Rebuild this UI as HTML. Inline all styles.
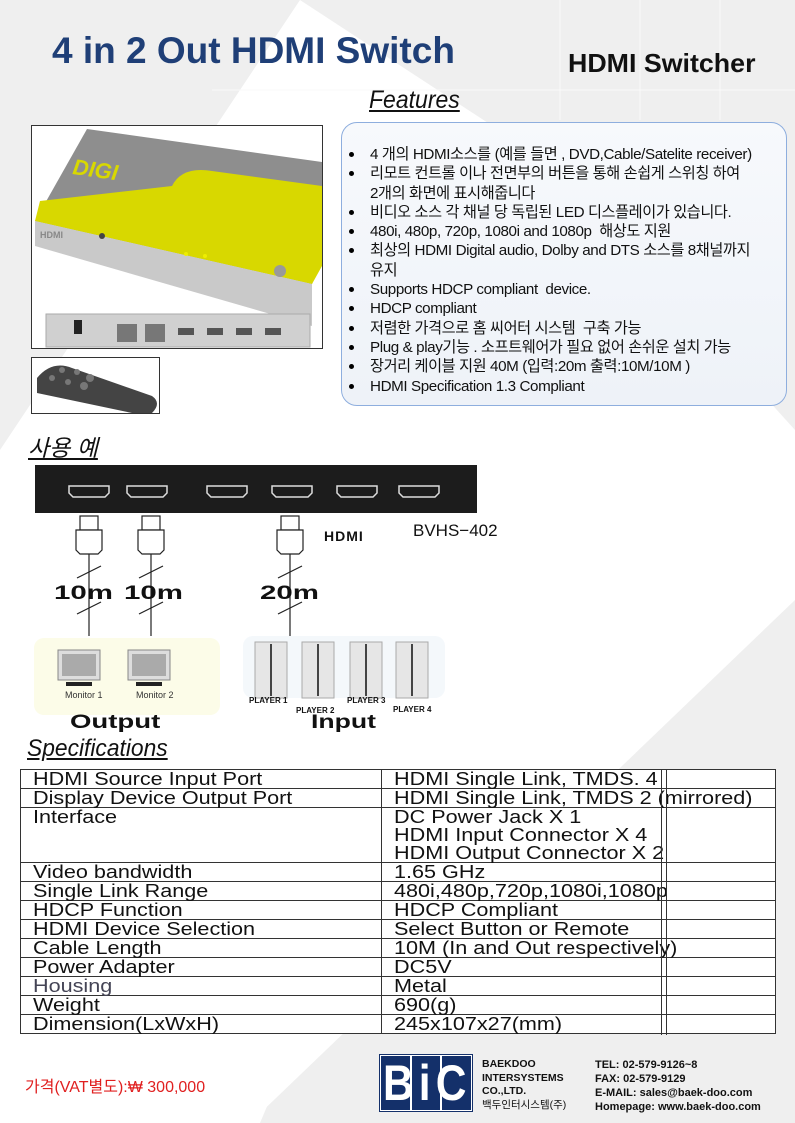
<!DOCTYPE html>
<html><head><meta charset="utf-8">
<style>
*{margin:0;padding:0;box-sizing:border-box}
body{width:795px;height:1123px;position:relative;overflow:hidden;background:#efefef;font-family:"Liberation Sans","Noto Sans CJK KR",sans-serif;color:#111}
.a{position:absolute;white-space:nowrap}
.s{display:inline-block;transform-origin:left center}
#feat{left:341px;top:122px;width:446px;height:284px;border:1.5px solid #8eaede;border-radius:16px;background:linear-gradient(#f7f9fc,#eef2f8)}
#feat ul{list-style:none;position:absolute;left:4px;top:22px;font-size:15.2px;line-height:19.3px;letter-spacing:-0.4px}
#feat li{position:relative;padding-left:24px}
#feat li:before{content:"";position:absolute;left:3px;top:7px;width:5px;height:5px;border-radius:50%;background:#000}
table{position:absolute;left:20px;top:769px;width:756px;border-collapse:collapse;background:#fff;font-size:18px;line-height:18px}
td{border:1.5px solid #333;padding:0 0 0 12px;vertical-align:top;height:19px}
td:first-child{width:361px}
td span{display:inline-block;transform:scaleX(1.2);transform-origin:left top}
.big{font-weight:900;font-size:19px;display:inline-block;transform-origin:left}
</style></head><body>
<svg class="a" style="left:0;top:0" width="795" height="1123">
<polygon points="300,0 0,450 0,1123 250,1123 795,600 795,430 560,170" fill="#fff"/>
<polygon points="145,1040 295,1040 260,1123 250,1123" fill="#fff"/>
<g stroke="#fafafa" stroke-width="1"><line x1="212" y1="90" x2="795" y2="90"/><line x1="560" y1="0" x2="560" y2="120"/><line x1="640" y1="0" x2="640" y2="120"/><line x1="720" y1="0" x2="720" y2="120"/></g>
</svg>
<div class="a" style="left:52px;top:30px;font-size:37px;font-weight:bold;color:#1f3f77"><span class="s" style="transform:scaleX(1.0)">4 in 2 Out HDMI Switch</span></div>
<div class="a" style="left:568px;top:48px;font-size:26px;font-weight:bold"><span class="s" style="transform:scaleX(1.03)">HDMI Switcher</span></div>
<div class="a" style="left:369px;top:86px;font-size:25px;font-style:italic;text-decoration:underline;transform:scaleX(.92);transform-origin:left">Features</div>

<div class="a" style="left:31px;top:125px;width:292px;height:224px;border:1.5px solid #333;background:#fff;overflow:hidden">
<svg width="292" height="224">
<polygon points="55,3 290,36 290,130 280,158 3,95" fill="#8e8e8e"/>
<path d="M3,95 L8,75 L140,60 Q150,40 180,45 L290,60 L290,140 L280,158 Z" fill="#d8d800"/>
<text x="40" y="48" font-family="Liberation Sans" font-weight="bold" font-style="italic" font-size="22" fill="#d8d800" transform="rotate(8 40 48)">DIGI</text>
<polygon points="3,95 280,158 280,200 3,120" fill="#c9c9c9"/>
<text x="8" y="112" font-size="9" font-weight="bold" fill="#888" font-family="Liberation Sans">HDMI</text>
<circle cx="70" cy="110" r="3" fill="#444"/><circle cx="248" cy="145" r="6" fill="#999"/>
<circle cx="154" cy="128" r="2" fill="#ee0"/><circle cx="173" cy="130" r="2" fill="#ee0"/>
<rect x="14" y="188" width="264" height="33" fill="#d0d0d0" stroke="#aaa"/>
<rect x="42" y="194" width="8" height="14" fill="#222"/>
<rect x="85" y="198" width="20" height="18" fill="#777"/><rect x="113" y="198" width="20" height="18" fill="#777"/>
<rect x="146" y="202" width="16" height="7" fill="#555"/><rect x="175" y="202" width="16" height="7" fill="#555"/><rect x="204" y="202" width="16" height="7" fill="#555"/><rect x="233" y="202" width="16" height="7" fill="#555"/>
</svg></div>
<div class="a" style="left:31px;top:357px;width:129px;height:57px;border:1.5px solid #333;background:#fff;overflow:hidden">
<svg width="129" height="57"><path d="M5,20 Q20,2 40,10 L120,38 Q130,45 120,55 L100,55 L5,35 Z" fill="#444"/><g fill="#777"><circle cx="30" cy="12" r="3"/><circle cx="45" cy="14" r="3"/><circle cx="20" cy="20" r="3"/><circle cx="36" cy="24" r="3"/><circle cx="58" cy="20" r="4"/><circle cx="52" cy="28" r="4"/></g></svg></div>

<div id="feat" class="a"><ul>
<li>4 개의 HDMI소스를 (예를 들면 , DVD,Cable/Satelite receiver)</li>
<li>리모트 컨트롤 이나 전면부의 버튼을 통해 손쉽게 스위칭 하여<br>2개의 화면에 표시해줍니다</li>
<li>비디오 소스 각 채널 당 독립된 LED 디스플레이가 있습니다.</li>
<li>480i, 480p, 720p, 1080i and 1080p &nbsp;해상도 지원</li>
<li>최상의 HDMI Digital audio, Dolby and DTS 소스를 8채널까지<br>유지</li>
<li>Supports HDCP compliant &nbsp;device.</li>
<li>HDCP compliant</li>
<li>저렴한 가격으로 홈 씨어터 시스템 &nbsp;구축 가능</li>
<li>Plug &amp; play기능 . 소프트웨어가 필요 없어 손쉬운 설치 가능</li>
<li>장거리 케이블 지원 40M (입력:20m 출력:10M/10M )</li>
<li>HDMI Specification 1.3 Compliant</li>
</ul></div>

<div class="a" style="left:28px;top:429px;font-size:23px;font-style:italic;text-decoration:underline">사용 예</div>

<svg class="a" style="left:0;top:460px" width="520" height="280">
<rect x="35" y="5" width="442" height="48" fill="#1c1c1c"/>
<g fill="#1c1c1c" stroke="#ddd" stroke-width="1.5">
<path d="M69,26 h40 v7 l-4,4 h-32 l-4,-4z"/><path d="M127,26 h40 v7 l-4,4 h-32 l-4,-4z"/><path d="M207,26 h40 v7 l-4,4 h-32 l-4,-4z"/><path d="M272,26 h40 v7 l-4,4 h-32 l-4,-4z"/><path d="M337,26 h40 v7 l-4,4 h-32 l-4,-4z"/><path d="M399,26 h40 v7 l-4,4 h-32 l-4,-4z"/>
</g>
<g fill="#fff" stroke="#222" stroke-width="1.2">
<g id="p"><rect x="80" y="56" width="18" height="14"/><path d="M76,70 h26 v20 l-4,4 h-18 l-4,-4z"/><line x1="89" y1="94" x2="89" y2="176"/></g>
<use href="#p" x="62"/><use href="#p" x="201"/>
</g>
<g stroke="#222" stroke-width="1.2">
<line x1="77" y1="118" x2="101" y2="106"/><line x1="139" y1="118" x2="163" y2="106"/><line x1="278" y1="118" x2="302" y2="106"/>
<line x1="77" y1="154" x2="101" y2="142"/><line x1="139" y1="154" x2="163" y2="142"/><line x1="278" y1="154" x2="302" y2="142"/>
</g>
<rect x="34" y="178" width="186" height="77" rx="10" fill="#fcfce8"/>
<rect x="243" y="176" width="202" height="62" rx="10" fill="#f4f8fb"/>
<g fill="#ddd" stroke="#888"><rect x="58" y="190" width="42" height="30"/><rect x="128" y="190" width="42" height="30"/></g>
<g fill="#aaa"><rect x="62" y="194" width="34" height="22"/><rect x="132" y="194" width="34" height="22"/><rect x="66" y="222" width="26" height="4" fill="#222"/><rect x="136" y="222" width="26" height="4" fill="#222"/></g>
<g fill="#e6e6e6" stroke="#aaa"><rect x="255" y="182" width="32" height="56"/><rect x="302" y="182" width="32" height="56"/><rect x="350" y="182" width="32" height="56"/><rect x="396" y="182" width="32" height="56"/></g>
<g stroke="#444" stroke-width="2"><line x1="271" y1="184" x2="271" y2="236"/><line x1="318" y1="184" x2="318" y2="236"/><line x1="366" y1="184" x2="366" y2="236"/><line x1="412" y1="184" x2="412" y2="236"/></g>
</svg>
<div class="a" style="left:324px;top:528px;font-size:14px;font-weight:bold;letter-spacing:1px">HDMI</div>
<div class="a" style="left:413px;top:521px;font-size:17px">BVHS−402</div>
<div class="a" style="left:54px;top:583px"><span class="big" style="transform:scaleX(1.55)">10m</span></div>
<div class="a" style="left:124px;top:583px"><span class="big" style="transform:scaleX(1.55)">10m</span></div>
<div class="a" style="left:260px;top:583px"><span class="big" style="transform:scaleX(1.55)">20m</span></div>
<div class="a" style="left:65px;top:690px;font-size:9px;color:#333">Monitor 1</div>
<div class="a" style="left:136px;top:690px;font-size:9px;color:#333">Monitor 2</div>
<div class="a" style="left:249px;top:696px;font-size:8px;font-weight:bold">PLAYER 1</div>
<div class="a" style="left:296px;top:706px;font-size:8px;font-weight:bold">PLAYER 2</div>
<div class="a" style="left:347px;top:696px;font-size:8px;font-weight:bold">PLAYER 3</div>
<div class="a" style="left:393px;top:705px;font-size:8px;font-weight:bold">PLAYER 4</div>
<div class="a" style="left:70px;top:712px"><span class="big" style="transform:scaleX(1.45)">Output</span></div>
<div class="a" style="left:311px;top:712px"><span class="big" style="transform:scaleX(1.4)">Input</span></div>
<div class="a" style="left:27px;top:735px;font-size:24px;font-style:italic;text-decoration:underline;transform:scaleX(.95);transform-origin:left">Specifications</div>

<table>
<tr><td><span>HDMI Source Input Port</span></td><td><span>HDMI Single Link, TMDS. 4</span></td></tr>
<tr><td><span>Display Device Output Port</span></td><td><span>HDMI Single Link, TMDS 2 (mirrored)</span></td></tr>
<tr><td style="height:55px"><span>Interface</span></td><td><span>DC Power Jack X 1<br>HDMI Input Connector X 4<br>HDMI Output Connector X 2</span></td></tr>
<tr><td><span>Video bandwidth</span></td><td><span>1.65 GHz</span></td></tr>
<tr><td><span>Single Link Range</span></td><td><span>480i,480p,720p,1080i,1080p</span></td></tr>
<tr><td><span>HDCP Function</span></td><td><span>HDCP Compliant</span></td></tr>
<tr><td><span>HDMI Device Selection</span></td><td><span>Select Button or Remote</span></td></tr>
<tr><td><span>Cable Length</span></td><td><span>10M (In and Out respectively)</span></td></tr>
<tr><td><span>Power Adapter</span></td><td><span>DC5V</span></td></tr>
<tr><td style="color:#445"><span>Housing</span></td><td><span>Metal</span></td></tr>
<tr><td><span>Weight</span></td><td><span>690(g)</span></td></tr>
<tr><td><span>Dimension(LxWxH)</span></td><td><span>245x107x27(mm)</span></td></tr>
</table>
<div class="a" style="left:661px;top:769px;width:6px;height:266px;border-left:1.5px solid #333;border-right:1.5px solid #333"></div>

<div class="a" style="left:25px;top:1073px;font-size:16px;color:#e02020">가격(VAT별도):₩ 300,000</div>
<div class="a" style="left:379px;top:1054px;width:94px;height:58px;background:#fff;border:1px solid #14306a">
<div class="a" style="left:1px;top:1px;width:29px;height:54px;background:#14306a"></div>
<div class="a" style="left:32px;top:1px;width:28px;height:54px;background:#14306a"></div>
<div class="a" style="left:62px;top:1px;width:29px;height:54px;background:#14306a"></div>
<div class="a" style="left:3px;top:0;font-size:50px;line-height:56px;font-weight:bold;color:#fff;letter-spacing:6px;transform:scaleX(.85);transform-origin:left">BiC</div>
</div>
<div class="a" style="left:482px;top:1058px;font-size:10.5px;font-weight:bold;line-height:13.5px">BAEKDOO<br>INTERSYSTEMS<br>CO.,LTD.<br><span style="font-weight:normal">백두인터시스템(주)</span></div>
<div class="a" style="left:595px;top:1058px;font-size:11px;font-weight:bold;line-height:14px">TEL: 02-579-9126~8<br>FAX: 02-579-9129<br>E-MAIL: sales@baek-doo.com<br>Homepage: www.baek-doo.com</div>
</body></html>
